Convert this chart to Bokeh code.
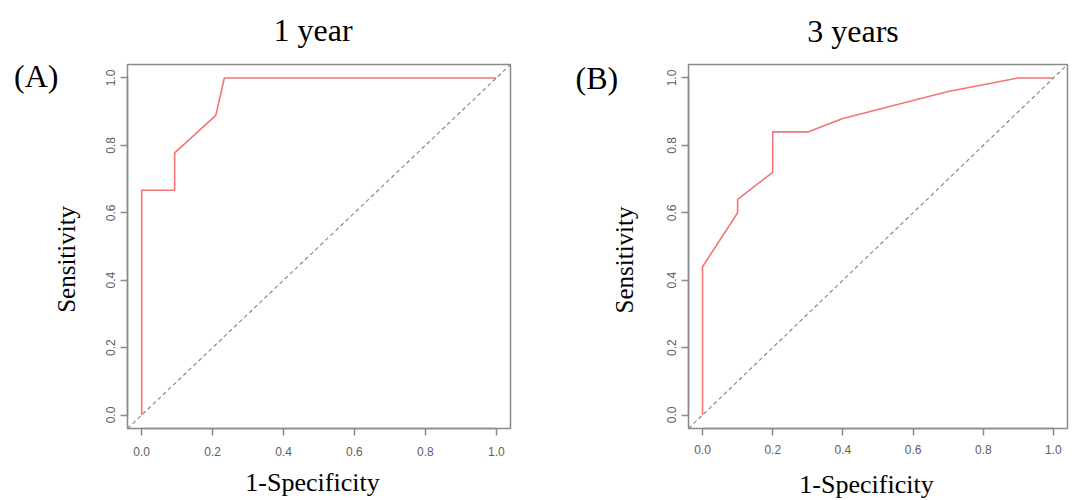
import math
from bokeh.plotting import figure
from bokeh.models import Label, Slope, FixedTicker, PrintfTickFormatter, Range1d
from bokeh.layouts import row
from bokeh.embed import file_html
from bokeh.resources import INLINE

# ---- data ----
fpr_1y = [0.0, 0.0, 0.093, 0.093, 0.209, 0.233, 1.0]
tpr_1y = [0.0, 0.667, 0.667, 0.778, 0.889, 1.0, 1.0]
fpr_3y = [0.0, 0.0, 0.1, 0.1, 0.2, 0.2, 0.3, 0.4, 0.7, 0.9, 1.0]
tpr_3y = [0.0, 0.44, 0.6, 0.64, 0.72, 0.84, 0.84, 0.88, 0.96, 1.0, 1.0]
tick_values = [0.0, 0.2, 0.4, 0.6, 0.8, 1.0]
titles = ["1 year", "3 years"]
panel_tags = ["(A)", "(B)"]
x_title = "1-Specificity"
y_title = "Sensitivity"

SERIF = "Liberation Serif"
SANS = "Liberation Sans"
GREY = "#8a8a8a"
TICK_GREY = "#606060"
CURVE = "#F57474"
LO, HI = -0.04, 1.04


def panel(fpr, tpr, title, tag, geo):
    ox, oy = geo["origin"]
    W, H = geo["size"]
    l, r, t, b = geo["borders"]
    p = figure(width=W, height=H, output_backend="svg", toolbar_location=None,
               x_range=Range1d(LO, HI), y_range=Range1d(LO, HI),
               min_border_left=l, min_border_right=r,
               min_border_top=t, min_border_bottom=b)
    p.grid.visible = False
    p.outline_line_color = GREY
    p.outline_line_width = 1.5
    p.background_fill_color = "white"
    p.border_fill_color = "white"

    for ax in (p.xaxis[0], p.yaxis[0]):
        ax.ticker = FixedTicker(ticks=tick_values)
        ax.formatter = PrintfTickFormatter(format="%.1f")
        ax.bounds = (0, 1)
        ax.axis_line_color = GREY
        ax.axis_line_width = 1.5
        ax.major_tick_line_color = GREY
        ax.major_tick_line_width = 1.5
        ax.major_tick_out = 7
        ax.major_tick_in = 0
        ax.minor_tick_line_color = None
        ax.major_label_text_font = SANS
        ax.major_label_text_font_size = "12px"
        ax.major_label_text_color = TICK_GREY
    p.xaxis[0].major_label_standoff = geo["xtickstand"]
    p.yaxis[0].major_label_standoff = 5
    p.yaxis[0].major_label_orientation = "vertical"

    # chance diagonal
    p.add_layout(Slope(gradient=1, y_intercept=0, line_color=GREY,
                       line_width=1.2, line_dash="4 3"))
    # ROC curve
    p.line(fpr, tpr, line_color=CURVE, line_width=1.6)

    # geometry of the frame on the page, used to place the text annotations
    fl, fr = ox + l, ox + W - r
    ft, fb = oy + t, oy + H - b

    def to_data(px, py):
        x = LO + (px - fl) / (fr - fl) * (HI - LO)
        y = LO + (fb - py) / (fb - ft) * (HI - LO)
        return x, y

    tx, ty = to_data(*geo["title"])
    p.add_layout(Label(x=tx, y=ty, text=title, text_font=SERIF,
                       text_font_size="32px", text_color="black",
                       text_align="center", text_baseline="alphabetic"), "above")
    gx, gy = to_data(*geo["tag"])
    p.add_layout(Label(x=gx, y=gy, text=tag, text_font=SERIF,
                       text_font_size="32px", text_color="black",
                       text_align="left", text_baseline="alphabetic"), geo["tagside"])
    yx, yy = to_data(*geo["ylab"])
    p.add_layout(Label(x=yx, y=yy, text=y_title, text_font=SERIF,
                       text_font_size="25px", text_color="black",
                       angle=math.pi / 2, text_align="center",
                       text_baseline="middle"), "left")
    xx, xy = to_data(*geo["xlab"])
    p.add_layout(Label(x=xx, y=xy, text=x_title, text_font=SERIF,
                       text_font_size="26px", text_color="black",
                       text_align="center", text_baseline="alphabetic"), "below")
    return p


geoA = dict(origin=(0, 0), size=(560, 500), borders=(127, 50, 64, 68),
            title=(312.5, 29), tag=(13.5, 75.5), tagside="right",
            xtickstand=11, ylab=(66, 261), xlab=(312, 487))
geoB = dict(origin=(560, 0), size=(514, 500), borders=(128, 7, 63, 72),
            title=(852.5, 29), tag=(575, 76.5), tagside="left",
            xtickstand=9, ylab=(624, 259), xlab=(866, 484.5))

pA = panel(fpr_1y, tpr_1y, titles[0], panel_tags[0], geoA)
pB = panel(fpr_3y, tpr_3y, titles[1], panel_tags[1], geoB)

layout = row(pA, pB)
open("out.html", "w").write(file_html(layout, INLINE))
